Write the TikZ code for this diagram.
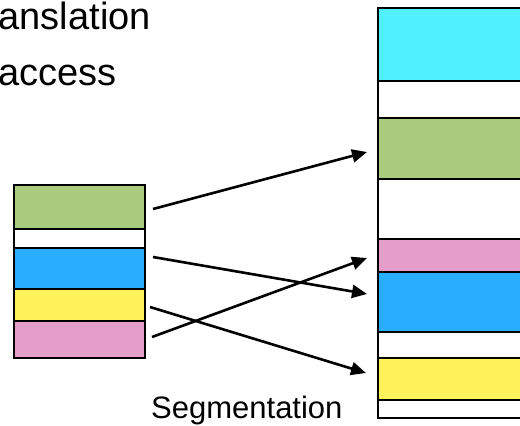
\documentclass[tikz,border=0pt]{standalone}
\usepackage{fontspec}
\setmainfont{Liberation Sans}
\usetikzlibrary{arrows.meta,calc}
\definecolor{segGreen}{RGB}{169,204,126}
\definecolor{segBlue}{RGB}{41,173,255}
\definecolor{segYellow}{RGB}{255,242,90}
\definecolor{segPink}{RGB}{229,158,202}
\definecolor{segCyan}{RGB}{80,240,255}
\tikzset{
  seg/.style={draw=black,line width=2.6pt,inner sep=0pt,outer sep=0pt},
  lseg/.style={seg,minimum width=131pt},
  rseg/.style={seg,minimum width=152pt},
  maparrow/.style={line width=2.6pt,-{Triangle[length=15pt,width=13pt]}},
  heading/.style={font=\fontsize{38}{38}\selectfont,inner sep=0pt,anchor=base west}
}
\begin{document}
\begin{tikzpicture}[x=1pt,y=-1pt]
\useasboundingbox (0,0) rectangle (520,426);
\clip (0,0) rectangle (520,426);

% headings
\node[heading] (h1) at (-1.5,29) {anslation};
\node[heading] (h2) at (-1.5,85) {access};

% segments in the program's view
\node[lseg,fill=segGreen,minimum height=44pt]  (lgreen)  at (79.5,207)   {};
\node[lseg,fill=white,minimum height=19pt]     (lwhite)  at (79.5,238.5) {};
\node[lseg,fill=segBlue,minimum height=41pt]   (lblue)   at (79.5,268.5) {};
\node[lseg,fill=segYellow,minimum height=32pt] (lyellow) at (79.5,305)   {};
\node[lseg,fill=segPink,minimum height=37pt]   (lpink)   at (79.5,339.5) {};

% physical memory
\node[rseg,fill=segCyan,minimum height=73pt]   (rcyan)   at (454,44.5)  {};
\node[rseg,fill=white,minimum height=37pt]     (rw1)     at (454,99.5)  {};
\node[rseg,fill=segGreen,minimum height=61pt]  (rgreen)  at (454,148.5) {};
\node[rseg,fill=white,minimum height=60pt]     (rw2)     at (454,209)   {};
\node[rseg,fill=segPink,minimum height=33pt]   (rpink)   at (454,255.5) {};
\node[rseg,fill=segBlue,minimum height=60pt]   (rblue)   at (454,302)   {};
\node[rseg,fill=white,minimum height=26pt]     (rw3)     at (454,345)   {};
\node[rseg,fill=segYellow,minimum height=42pt] (ryellow) at (454,379)   {};
\node[rseg,fill=white,minimum height=18pt]     (rw4)     at (454,409)   {};

% mapping of segments
\draw[maparrow] ([xshift=8pt,yshift=-2pt]lgreen.east)  -- ([xshift=-11pt,yshift=-3.5pt]rgreen.west);
\draw[maparrow] ([xshift=8pt,yshift=11.5pt]lblue.east) -- ([xshift=-11pt,yshift=8pt]rblue.west);
\draw[maparrow] ([xshift=5pt,yshift=-2pt]lyellow.east) -- ([xshift=-12pt,yshift=6pt]ryellow.west);
\draw[maparrow] ([xshift=7pt,yshift=2.5pt]lpink.east)  -- ([xshift=-11pt,yshift=-2.5pt]rpink.west);

\node[font=\fontsize{31}{31}\selectfont,inner sep=0pt,anchor=base west] (cap) at (151,418) {Segmentation};
\end{tikzpicture}
\end{document}
